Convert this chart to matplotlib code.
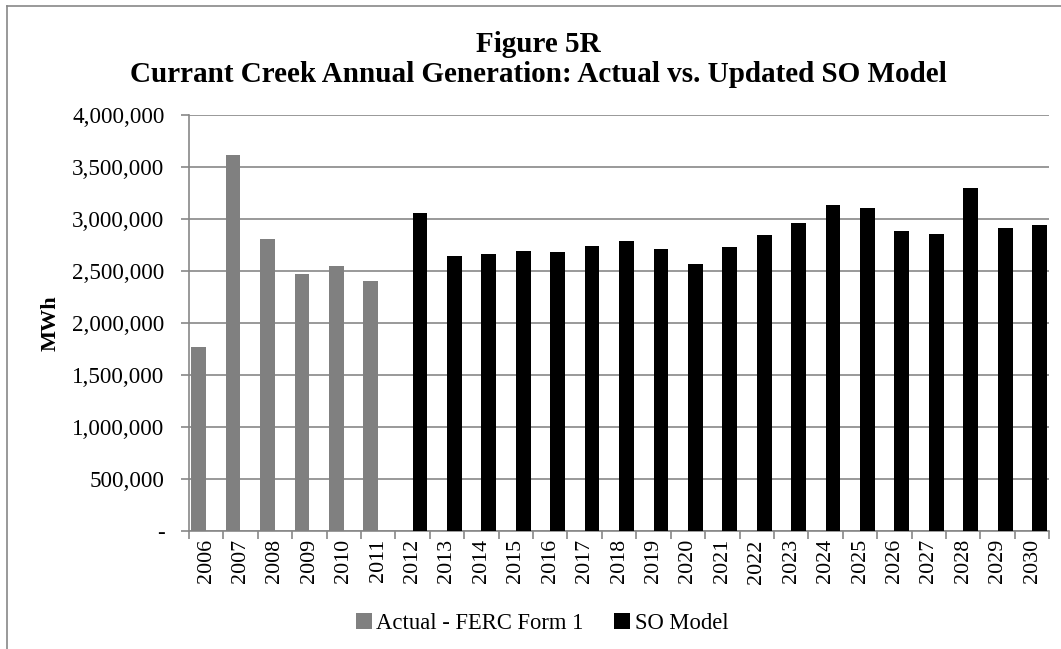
import numpy as np
import matplotlib.pyplot as plt
from matplotlib.lines import Line2D
from matplotlib.ticker import FuncFormatter

plt.rcParams['font.family'] = ['Liberation Serif', 'DejaVu Serif']

years = list(range(2006, 2031))
actual_years = [2006, 2007, 2008, 2009, 2010, 2011]
actual = [1770000, 3615000, 2805000, 2470000, 2545000, 2405000]
model_years = list(range(2012, 2031))
model = [3060000, 2645000, 2665000, 2695000, 2685000, 2735000, 2790000,
         2715000, 2570000, 2730000, 2845000, 2960000, 3135000, 3100000,
         2885000, 2855000, 3295000, 2910000, 2940000]

fig = plt.figure(figsize=(10.61, 6.49), dpi=100)
ax = fig.add_axes([0.178, 0.182, 0.811, 0.641])

w = 0.43
xa = np.array([years.index(y) for y in actual_years])
xm = np.array([years.index(y) for y in model_years])
ax.bar(xa - w/2, actual, width=w, color='#808080', zorder=3,
       label='Actual - FERC Form 1')
ax.bar(xm + w/2, model, width=w, color='black', zorder=3, label='SO Model')

ax.set_xlim(-0.5, len(years) - 0.5)
ax.set_ylim(0, 4000000)
ax.set_yticks(np.arange(0, 4000001, 500000))
ax.yaxis.set_major_formatter(FuncFormatter(
    lambda v, p: '-' if v == 0 else f'{int(v):,}'))
ax.yaxis.grid(True, color='#878787', lw=1.2, zorder=0)

ax.set_xticks(np.arange(len(years)))
ax.set_xticklabels([str(y) for y in years], rotation=90)
ax.set_xticks(np.arange(len(years) + 1) - 0.5, minor=True)
ax.tick_params(axis='x', which='major', length=0, pad=6, labelsize=15.8)
ax.tick_params(axis='x', which='minor', length=6, color='#878787', width=1.2)
ax.tick_params(axis='y', length=6, color='#878787', width=1.2,
               labelsize=16.6, pad=11.5)

for s in ['top', 'right']:
    ax.spines[s].set_visible(False)
for s in ['left', 'bottom']:
    ax.spines[s].set_color('#878787')
    ax.spines[s].set_linewidth(1.2)

ax.set_ylabel('MWh', fontsize=16, fontweight='bold', labelpad=8)

fig.text(0.5075, 0.9203, 'Figure 5R', ha='center', va='baseline',
         fontsize=21, fontweight='bold')
fig.text(0.5075, 0.8732,
         'Currant Creek Annual Generation: Actual vs. Updated SO Model',
         ha='center', va='baseline', fontsize=21, fontweight='bold')

handles, labels = ax.get_legend_handles_labels()
fig.legend(handles, labels, loc='center', bbox_to_anchor=(0.511, 0.04),
           ncol=2, frameon=False, fontsize=16.3, handlelength=0.7,
           handleheight=0.7, handletextpad=0.2, columnspacing=1.35)

# outer chart border
fig.add_artist(Line2D([0.0066, 1.0], [0.991, 0.991], color='#878787',
                      lw=1.2, transform=fig.transFigure))
fig.add_artist(Line2D([0.0066, 0.0066], [0.0, 0.991], color='#878787',
                      lw=1.2, transform=fig.transFigure))

fig.savefig('out.png', dpi=100)
